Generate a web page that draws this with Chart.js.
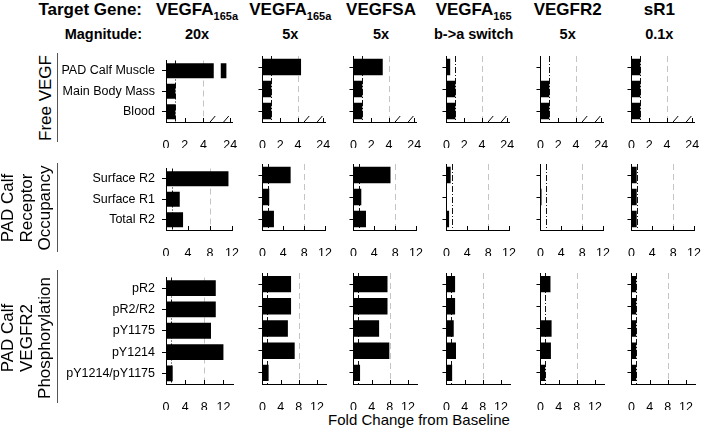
<!DOCTYPE html>
<html>
<head>
<meta charset="utf-8">
<script src="https://cdn.jsdelivr.net/npm/chart.js@4/dist/chart.umd.min.js"></script>
<style>
body { margin: 0; background: #fff; }
#fig { position: relative; width: 702px; height: 429px; overflow: hidden;
       font-family: 'Liberation Sans', Arial, Helvetica, sans-serif; color: #000; }
#fig canvas { position: absolute; }
.txt { position: absolute; white-space: nowrap; }
.hd { font-weight: bold; font-size: 17px; line-height: 20px; }
.mag { font-weight: bold; font-size: 14.5px; line-height: 18px; }
.hd sub { font-size: 11px; vertical-align: baseline; position: relative; top: 4.5px; line-height: 0; }
.rowlab { font-size: 17px; line-height: 18.5px; text-align: center; }
.sep { position: absolute; width: 1px; background: #555; }
</style>
</head>
<body>
<div id="fig"></div>
<script>
// column headers
const targetGenes = ['VEGFA', 'VEGFA', 'VEGFSA', 'VEGFA', 'VEGFR2', 'sR1'];
const targetSubs = ['165a', '165a', '', '165', '', ''];
const magnitudes = ['20x', '5x', '5x', 'b->a switch', '5x', '0.1x'];

// row titles and categories
const rowTitles = [['Free VEGF'], ['PAD Calf', 'Receptor', 'Occupancy'], ['PAD Calf', 'VEGFR2', 'Phosphorylation']];
const freeVegfLabels = ['PAD Calf Muscle', 'Main Body Mass', 'Blood'];
const occupancyLabels = ['Surface R2', 'Surface R1', 'Total R2'];
const phosphoLabels = ['pR2', 'pR2/R2', 'pY1175', 'pY1214', 'pY1214/pY1175'];

// tick labels
const freeVegfTicks = [0, 2, 4, 24];
const foldTicks = [0, 4, 8, 12];

// fold change values, one list per target gene column
const freeVegf = [
    [23.6, 1.0, 1.0],
    [4.35, 1.0, 1.0],
    [3.3, 1.0, 1.0],
    [0.42, 1.0, 1.0],
    [0.05, 1.0, 1.0],
    [1.0, 1.0, 1.0]
];
const occupancy = [
    [11.35, 2.5, 3.1],
    [5.4, 1.3, 2.2],
    [7.1, 1.5, 2.4],
    [0.8, 0.1, 0.5],
    [0.05, 0.2, 0.05],
    [1.0, 1.0, 1.0]
];
const phospho = [
    [10.4, 10.4, 9.4, 12.0, 1.4],
    [6.3, 6.3, 5.6, 7.1, 1.35],
    [7.5, 7.5, 5.65, 7.9, 1.45],
    [1.9, 1.9, 1.6, 2.1, 1.25],
    [2.2, 0.05, 2.45, 2.3, 1.05],
    [1.05, 1.05, 1.05, 1.05, 1.05]
];

const FONT = "'Liberation Sans', Arial, Helvetica, sans-serif";
Chart.defaults.font.family = FONT;
Chart.defaults.color = '#000';

// broken x axis for the free VEGF row: 0..5.1 then jump to 23..
const BREAK_LOW = 5.1, BREAK_HIGH = 23, BREAK_GAP = 0.75;
function squeeze(v) {
    if (v <= BREAK_LOW) return v;
    if (v >= BREAK_HIGH) return BREAK_LOW + BREAK_GAP + (v - BREAK_HIGH);
    return BREAK_LOW + BREAK_GAP * (v - BREAK_LOW) / (BREAK_HIGH - BREAK_LOW);
}
function unsqueeze(d) {
    if (d <= BREAK_LOW) return d;
    if (d >= BREAK_LOW + BREAK_GAP) return d - BREAK_LOW - BREAK_GAP + BREAK_HIGH;
    return BREAK_LOW + (d - BREAK_LOW) * (BREAK_HIGH - BREAK_LOW) / BREAK_GAP;
}
class BrokenScale extends Chart.LinearScale {
    static id = 'brokenLinear';
    configure() {
        super.configure();
        this._startValue = squeeze(this.min);
        this._endValue = squeeze(this.max);
        this._valueRange = this._endValue - this._startValue;
    }
    getPixelForValue(v) { return super.getPixelForValue(squeeze(v)); }
    getValueForPixel(p) { return unsqueeze(super.getValueForPixel(p)); }
}
Chart.register(BrokenScale);

// reference lines, tick marks and the axis break
const decor = {
    id: 'decor',
    beforeDatasetsDraw(chart, args, opts) {
        const { ctx, chartArea: a } = chart;
        const x = chart.scales.x;
        ctx.save();
        ctx.lineWidth = 1;
        const gx = Math.round(x.getPixelForValue(opts.guide)) + 0.5;
        ctx.strokeStyle = '#c4c4c4';
        ctx.setLineDash([6, 4]);
        ctx.beginPath(); ctx.moveTo(gx, a.top); ctx.lineTo(gx, a.bottom); ctx.stroke();
        const bx = Math.round(x.getPixelForValue(1)) + 0.5;
        ctx.strokeStyle = '#111';
        ctx.setLineDash([6, 2, 1, 2]);
        ctx.beginPath(); ctx.moveTo(bx, a.top); ctx.lineTo(bx, a.bottom); ctx.stroke();
        ctx.restore();
    },
    afterDatasetsDraw(chart, args, opts) {
        const { ctx, chartArea: a } = chart;
        const x = chart.scales.x;
        ctx.save();
        if (opts.broken) {
            const x1 = x.getPixelForValue(BREAK_LOW), x2 = x.getPixelForValue(BREAK_HIGH);
            ctx.fillStyle = '#fff';
            ctx.fillRect(x1, a.top, x2 - x1, a.bottom - a.top - 1);
        }
        ctx.restore();
    },
    afterDraw(chart, args, opts) {
        const { ctx } = chart;
        const x = chart.scales.x;
        const y0 = x.top;
        ctx.save();
        ctx.strokeStyle = '#000';
        ctx.lineWidth = 1;
        x.ticks.forEach(t => {
            const px = Math.round(x.getPixelForValue(t.value)) + 0.5;
            ctx.beginPath(); ctx.moveTo(px, y0); ctx.lineTo(px, y0 - 4); ctx.stroke();
        });
        if (opts.broken) {
            [x.getPixelForValue(BREAK_LOW) - 1.5, x.getPixelForValue(BREAK_HIGH) + 5].forEach(px => {
                ctx.beginPath(); ctx.moveTo(px - 3, y0 + 1); ctx.lineTo(px + 3, y0 - 6); ctx.stroke();
            });
        }
        ctx.restore();
    }
};

const fig = document.getElementById('fig');
const COL_X0 = [166, 259.3, 350, 442.7, 536.7, 628.3];
const rows = [
    { labels: freeVegfLabels, values: freeVegf, top: 55.5, type: 'brokenLinear', max: 24.2, ticks: freeVegfTicks, guide: 4, width: 66 },
    { labels: occupancyLabels, values: occupancy, top: 163.5, type: 'linear', max: 12, ticks: foldTicks, guide: 8, width: 67 },
    { labels: phosphoLabels, values: phospho, top: 273.3, type: 'linear', max: 14, ticks: foldTicks, guide: 8, width: 67 }
];
const CAT_H = 22.1, TOP_PAD = 10, RIGHT_PAD = 14, BOTTOM_H = 26;

rows.forEach((row, r) => {
    const areaH = row.labels.length * CAT_H;
    COL_X0.forEach((x0, c) => {
        const leftW = c === 0 ? 110 : 8;
        const cv = document.createElement('canvas');
        const w = Math.round(leftW + row.width + RIGHT_PAD);
        const h = Math.round(TOP_PAD + areaH + BOTTOM_H);
        cv.width = w; cv.height = h;
        cv.style.width = w + 'px'; cv.style.height = h + 'px';
        cv.style.left = (x0 - leftW) + 'px';
        cv.style.top = (row.top - TOP_PAD) + 'px';
        fig.appendChild(cv);
        new Chart(cv, {
            type: 'bar',
            data: {
                labels: row.labels,
                datasets: [{
                    data: row.values[c],
                    backgroundColor: '#000',
                    borderWidth: 0,
                    barPercentage: 0.74,
                    categoryPercentage: 1
                }]
            },
            options: {
                indexAxis: 'y',
                responsive: false,
                animation: false,
                devicePixelRatio: 1,
                layout: { padding: { top: TOP_PAD, right: RIGHT_PAD, left: 0, bottom: 0 } },
                plugins: {
                    legend: { display: false },
                    tooltip: { enabled: false },
                    decor: { guide: row.guide, broken: row.type === 'brokenLinear' }
                },
                scales: {
                    y: {
                        type: 'category',
                        offset: true,
                        grid: { display: true, drawOnChartArea: false, drawTicks: true, tickLength: 4, color: '#000', offset: false },
                        border: { display: true, color: '#000', width: 1 },
                        ticks: { display: c === 0, color: '#000', padding: 7, font: { size: 12.5 } },
                        afterFit(s) { s.width = leftW; }
                    },
                    x: {
                        type: row.type,
                        min: 0,
                        max: row.max,
                        afterBuildTicks(s) { s.ticks = row.ticks.map(v => ({ value: v })); },
                        grid: { display: false },
                        border: { display: true, color: '#000', width: 1 },
                        ticks: { color: '#000', padding: 8, maxRotation: 0, autoSkip: false, font: { size: 12.5 } },
                        afterFit(s) { s.height = BOTTOM_H; }
                    }
                }
            },
            plugins: [decor]
        });
    });
});

// header and labels as plain text
function addText(html, cls, style) {
    const d = document.createElement('div');
    d.className = 'txt ' + cls;
    d.innerHTML = html;
    Object.assign(d.style, style);
    fig.appendChild(d);
    return d;
}
addText('Target Gene:', 'hd', { left: '0px', width: '142px', textAlign: 'right', top: '0px' });
addText('Magnitude:', 'mag', { left: '0px', width: '142px', textAlign: 'right', top: '24.6px' });
COL_X0.forEach((x0, c) => {
    const cx = x0 + 31;
    const sub = targetSubs[c] ? '<sub>' + targetSubs[c] + '</sub>' : '';
    addText(targetGenes[c] + sub, 'hd', { left: cx + 'px', top: '0px', transform: 'translateX(-50%)' });
    addText(magnitudes[c], 'mag', { left: cx + 'px', top: '24.6px', transform: 'translateX(-50%)' });
});
const rowCenters = [[46, 98], [27, 207.5], [27, 337.5]];
const sepSpans = [[53, 141.7], [163, 252], [270, 403]];
rowTitles.forEach((lines, r) => {
    addText(lines.join('<br>'), 'rowlab', {
        left: rowCenters[r][0] + 'px', top: rowCenters[r][1] + 'px',
        transform: 'translate(-50%, -50%) rotate(-90deg)'
    });
    const s = document.createElement('div');
    s.className = 'sep';
    s.style.left = '57px';
    s.style.top = sepSpans[r][0] + 'px';
    s.style.height = (sepSpans[r][1] - sepSpans[r][0]) + 'px';
    fig.appendChild(s);
});
addText('Fold Change from Baseline', '', { left: '419px', top: '411px', fontSize: '15px', lineHeight: '18px', transform: 'translateX(-50%)' });
</script>
</body>
</html>
